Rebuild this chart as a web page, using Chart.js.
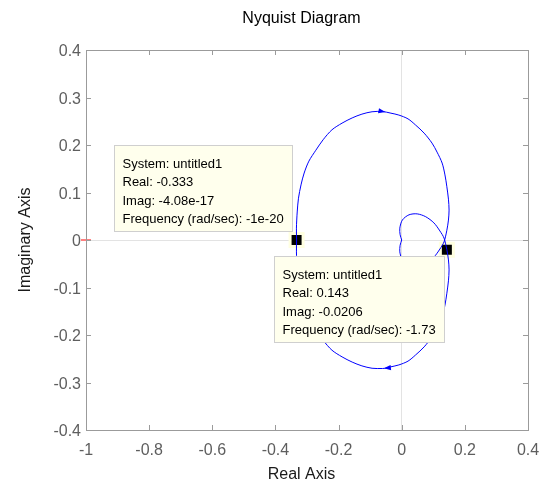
<!DOCTYPE html>
<html>
<head>
<meta charset="utf-8">
<title>Nyquist Diagram</title>
<script src="https://cdn.jsdelivr.net/npm/chart.js@4.4.1/dist/chart.umd.min.js"></script>
<style>
  html, body { margin: 0; padding: 0; background: #fff; }
  #nyquist { display: block; }
</style>
</head>
<body>
<canvas id="nyquist" width="547" height="486"></canvas>
<script>
// positive frequency branch, w from 0 up to +inf (ends at the origin)
var posRe = [-0.333, -0.3335, -0.331, -0.327, -0.319, -0.309, -0.294, -0.272, -0.249, -0.221,
             -0.189, -0.157, -0.126, -0.094, -0.061, -0.034, -0.009, 0.020, 0.044, 0.071,
             0.096, 0.112, 0.128, 0.137, 0.143, 0.148, 0.150, 0.148, 0.143, 0.134,
             0.121, 0.102, 0.076, 0.049, 0.023, 0.002, -0.006, -0.005, 0];
var posIm = [0, 0.025, 0.059, 0.088, 0.116, 0.141, 0.166, 0.189, 0.211, 0.232,
             0.246, 0.257, 0.265, 0.270, 0.2705, 0.267, 0.263, 0.255, 0.242, 0.225,
             0.204, 0.185, 0.162, 0.137, 0.112, 0.086, 0.063, 0.042, 0.0206, -0.004,
             -0.019, -0.036, -0.049, -0.055, -0.053, -0.042, -0.025, -0.011, 0];

// negative frequency branch, w from -inf up to 0 (origin back to the start point)
var negRe = [0, -0.005, -0.006, 0.002, 0.023, 0.049, 0.076, 0.102, 0.121, 0.134,
             0.143, 0.148, 0.150, 0.148, 0.143, 0.137, 0.128, 0.112, 0.096, 0.071,
             0.044, 0.020, -0.009, -0.034, -0.047, -0.061, -0.094, -0.126, -0.157, -0.189,
             -0.221, -0.249, -0.272, -0.294, -0.309, -0.319, -0.327, -0.331, -0.3335, -0.333];
var negIm = [0, 0.011, 0.025, 0.042, 0.053, 0.055, 0.049, 0.036, 0.019, 0.004,
             -0.0206, -0.042, -0.063, -0.086, -0.112, -0.137, -0.162, -0.185, -0.204, -0.225,
             -0.242, -0.255, -0.263, -0.267, -0.2695, -0.2705, -0.270, -0.265, -0.257, -0.246,
             -0.232, -0.211, -0.189, -0.166, -0.141, -0.116, -0.088, -0.059, -0.025, 0];

// index on each branch where the direction arrow sits
var posArrow = 14;
var negArrow = 24;

// data tips
var tipSystem = ['untitled1', 'untitled1'];
var tipReal = [-0.333, 0.143];
var tipImag = [-4.08e-17, -0.0206];
var tipFreq = ['-1e-20', '-1.73'];

// axis ticks
var xTicks = [-1, -0.8, -0.6, -0.4, -0.2, 0, 0.2, 0.4];
var yTicks = [-0.4, -0.3, -0.2, -0.1, 0, 0.1, 0.2, 0.3, 0.4];

var FONT = '"Liberation Sans", Arial, Helvetica, sans-serif';
var LINE_BLUE = 'rgb(0,0,255)';

function toPoints(re, im) {
    var pts = [];
    for (var i = 0; i < re.length; i++) {
        pts.push({x: re[i], y: im[i]});
    }
    return pts;
}

var tipPoints = toPoints(tipReal, tipImag);

// box round the axes with inward tick marks on all four sides
var axesBox = {
    id: 'axesBox',
    afterDraw: function(chart) {
        var c = chart.ctx, a = chart.chartArea;
        var xs = chart.scales.x, ys = chart.scales.y;
        c.save();
        c.strokeStyle = '#9b9b9b';
        c.lineWidth = 1;
        c.strokeRect(Math.round(a.left) + 0.5, Math.round(a.top) + 0.5,
                     Math.round(a.right - a.left), Math.round(a.bottom - a.top));
        c.beginPath();
        xTicks.forEach(function(v) {
            var px = Math.round(xs.getPixelForValue(v)) + 0.5;
            c.moveTo(px, a.bottom); c.lineTo(px, a.bottom - 5);
            c.moveTo(px, a.top); c.lineTo(px, a.top + 5);
        });
        yTicks.forEach(function(v) {
            var py = Math.round(ys.getPixelForValue(v)) + 0.5;
            c.moveTo(a.left, py); c.lineTo(a.left + 5, py);
            c.moveTo(a.right, py); c.lineTo(a.right - 5, py);
        });
        c.stroke();

        // title and x label
        var cx = (a.left + a.right) / 2 - 5.5;
        c.fillStyle = '#000';
        c.textAlign = 'center';
        c.textBaseline = 'alphabetic';
        c.font = '16px ' + FONT;
        c.fillText('Nyquist Diagram', cx, 23);
        c.fillStyle = '#1a1a1a';
        c.fillText('Real Axis', cx, 478.5);
        c.restore();
    }
};

// direction arrows and the data tip boxes, over the curves
var overlays = {
    id: 'overlays',
    afterDatasetsDraw: function(chart) {
        var c = chart.ctx;
        var xs = chart.scales.x, ys = chart.scales.y;

        function arrow(re, im, i) {
            var x0 = xs.getPixelForValue(re[i]), y0 = ys.getPixelForValue(im[i]);
            var x1 = xs.getPixelForValue(re[i + 1]), y1 = ys.getPixelForValue(im[i + 1]);
            var ang = Math.atan2(y1 - y0, x1 - x0);
            c.save();
            c.translate(x0, y0);
            c.rotate(ang);
            c.beginPath();
            c.moveTo(3, 0);
            c.lineTo(-4, -2.6);
            c.lineTo(-4, 2.6);
            c.closePath();
            c.fillStyle = LINE_BLUE;
            c.fill();
            c.restore();
        }
        arrow(posRe, posIm, posArrow);
        arrow(negRe, negIm, negArrow);

        c.save();
        c.font = '13px ' + FONT;
        c.textBaseline = 'middle';
        c.textAlign = 'left';
        for (var t = 0; t < tipReal.length; t++) {
            var lines = [
                'System: ' + tipSystem[t],
                'Real: ' + String(tipReal[t]),
                'Imag: ' + String(tipImag[t]),
                'Frequency (rad/sec): ' + tipFreq[t]
            ];
            var w = 0;
            lines.forEach(function(s) { w = Math.max(w, c.measureText(s).width); });
            w = Math.round(w + 16.5);
            var h = 86;
            var mx = xs.getPixelForValue(tipReal[t]);
            var my = ys.getPixelForValue(tipImag[t]);
            var right, top;
            if (t === 0) {
                right = mx - 5; top = my - 9 - h;
            } else {
                right = mx - 3; top = my + 6.5;
            }
            var left = Math.round(right - w) + 0.5;
            top = Math.round(top) + 0.5;
            c.fillStyle = 'rgb(255,255,237)';
            c.fillRect(left, top, w, h);
            c.strokeStyle = '#cfcfcf';
            c.lineWidth = 1;
            c.strokeRect(left, top, w, h);
            c.fillStyle = '#000';
            for (var k = 0; k < lines.length; k++) {
                c.fillText(lines[k], left + 8, top + 18.5 + k * 18.5);
            }
        }
        c.restore();
    }
};

var ctx = document.getElementById('nyquist').getContext('2d');
var chart = new Chart(ctx, {
    type: 'scatter',
    data: {
        datasets: [
            {
                data: toPoints(posRe, posIm),
                showLine: true,
                borderColor: LINE_BLUE,
                borderWidth: 1,
                pointRadius: 0,
                tension: 0.3
            },
            {
                data: toPoints(negRe, negIm),
                showLine: true,
                borderColor: LINE_BLUE,
                borderWidth: 1,
                pointRadius: 0,
                tension: 0.3
            },
            {
                // critical point -1 + 0j
                data: [{x: -1, y: 0}],
                pointStyle: 'line',
                pointRadius: 5,
                borderColor: 'rgb(255,0,0)',
                borderWidth: 1,
                clip: false
            },
            {
                data: tipPoints,
                pointStyle: 'rect',
                pointRadius: 9.2,
                backgroundColor: '#000',
                borderColor: 'rgb(255,255,225)',
                borderWidth: 3,
                clip: false
            }
        ]
    },
    options: {
        responsive: false,
        animation: false,
        devicePixelRatio: 1,
        layout: { padding: { top: 50, right: 19, left: 0, bottom: 0 } },
        plugins: {
            legend: { display: false },
            tooltip: { enabled: false }
        },
        scales: {
            x: {
                type: 'linear',
                min: -1,
                max: 0.4,
                afterBuildTicks: function(scale) {
                    scale.ticks = xTicks.map(function(v) { return {value: v}; });
                },
                ticks: {
                    color: '#5e5e5e',
                    font: { size: 16, family: FONT, lineHeight: 2 },
                    padding: 5,
                    maxRotation: 0,
                    autoSkip: false,
                    callback: function(v) { return String(v); }
                },
                grid: {
                    drawTicks: false,
                    color: function(c) { return c.tick && c.tick.value === 0 ? '#e3e3e3' : 'rgba(0,0,0,0)'; }
                },
                border: { display: false },
                afterFit: function(scale) { scale.height = 56; }
            },
            y: {
                type: 'linear',
                min: -0.4,
                max: 0.4,
                afterBuildTicks: function(scale) {
                    scale.ticks = yTicks.map(function(v) { return {value: v}; });
                },
                ticks: {
                    color: '#5e5e5e',
                    // empty first line nudges each label a couple of px below its tick
                    font: { size: 16, family: FONT, lineHeight: '4px' },
                    padding: 5,
                    autoSkip: false,
                    callback: function(v) { return ['', String(v)]; }
                },
                grid: {
                    drawTicks: false,
                    color: function(c) { return c.tick && c.tick.value === 0 ? '#e3e3e3' : 'rgba(0,0,0,0)'; }
                },
                border: { display: false },
                title: {
                    display: true,
                    text: 'Imaginary Axis',
                    color: '#1a1a1a',
                    font: { size: 16, family: FONT },
                    padding: { top: 16, bottom: 0 }
                },
                afterFit: function(scale) { scale.width = 86; }
            }
        }
    },
    plugins: [axesBox, overlays]
});
</script>
</body>
</html>
